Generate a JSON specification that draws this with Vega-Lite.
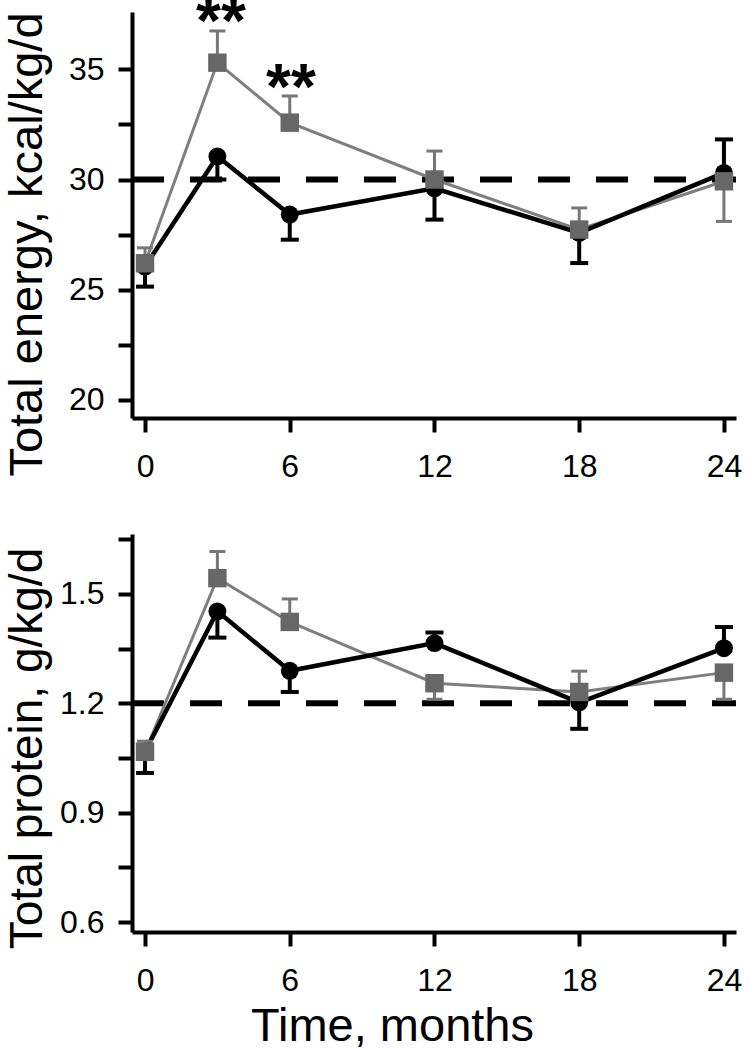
{
  "$schema": "https://vega.github.io/schema/vega-lite/v6.json",
  "background": "white",
  "padding": {"left": 2, "top": -9, "right": 5, "bottom": 0},
  "bounds": "flush",
  "spacing": 116,
  "config": {
    "font": "Liberation Sans",
    "view": {"stroke": null},
    "axis": {
      "grid": false,
      "domainColor": "black",
      "domainWidth": 4,
      "tickColor": "black",
      "tickWidth": 4,
      "tickSize": 14,
      "labelFont": "Liberation Sans",
      "labelFontSize": 32,
      "labelColor": "black",
      "titleFont": "Liberation Sans",
      "titleColor": "black",
      "titleFontWeight": "normal"
    }
  },
  "datasets": {
    "energy": [
      {"month": 0, "group": "A", "value": 26.05, "err": 25.14},
      {"month": 3, "group": "A", "value": 31.05, "err": 30.0},
      {"month": 6, "group": "A", "value": 28.41, "err": 27.27},
      {"month": 12, "group": "A", "value": 29.6, "err": 28.18},
      {"month": 18, "group": "A", "value": 27.58, "err": 26.21},
      {"month": 24, "group": "A", "value": 30.3, "err": 31.82},
      {"month": 0, "group": "B", "value": 26.2, "err": 26.9},
      {"month": 3, "group": "B", "value": 35.3, "err": 36.74},
      {"month": 6, "group": "B", "value": 32.58, "err": 33.79},
      {"month": 12, "group": "B", "value": 30.0, "err": 31.29},
      {"month": 18, "group": "B", "value": 27.73, "err": 28.71},
      {"month": 24, "group": "B", "value": 29.92, "err": 28.1}
    ],
    "protein": [
      {"month": 0, "group": "A", "value": 1.067, "err": 1.009},
      {"month": 3, "group": "A", "value": 1.452, "err": 1.38},
      {"month": 6, "group": "A", "value": 1.289, "err": 1.231},
      {"month": 12, "group": "A", "value": 1.365, "err": 1.394},
      {"month": 18, "group": "A", "value": 1.202, "err": 1.13},
      {"month": 24, "group": "A", "value": 1.351, "err": 1.409},
      {"month": 0, "group": "B", "value": 1.067, "err": 1.096},
      {"month": 3, "group": "B", "value": 1.543, "err": 1.616},
      {"month": 6, "group": "B", "value": 1.423, "err": 1.486},
      {"month": 12, "group": "B", "value": 1.255, "err": 1.211},
      {"month": 18, "group": "B", "value": 1.231, "err": 1.288},
      {"month": 24, "group": "B", "value": 1.284, "err": 1.211}
    ],
    "stars": [
      {"month": 3.15, "value": 37.57, "label": "**"},
      {"month": 6.05, "value": 34.58, "label": "**"}
    ],
    "refEnergy": [{"value": 30}],
    "refProtein": [{"value": 1.2}]
  },
  "vconcat": [
    {
      "width": 604,
      "height": 406,
      "encoding": {
        "x": {
          "field": "month", "type": "quantitative",
          "scale": {"domain": [-0.54, 24.5], "nice": false, "zero": false},
          "axis": {"values": [0, 6, 12, 18, 24], "title": null, "labelPadding": 19}
        },
        "y": {
          "field": "value", "type": "quantitative",
          "scale": {"domain": [19.18, 37.6], "nice": false, "zero": false},
          "axis": {
            "title": "Total energy, kcal/kg/d",
            "values": [20, 22.5, 25, 27.5, 30, 32.5, 35],
            "labelExpr": "datum.value % 5 == 0 ? datum.label : ''",
            "labelPadding": 14,
            "titleFontSize": 47,
            "titleAngle": 270,
            "titleAlign": "center",
            "titleBaseline": "alphabetic",
            "titleX": -91,
            "titleY": 232
          }
        }
      },
      "layer": [
        {
          "data": {"name": "refEnergy"},
          "mark": {"type": "rule", "color": "black", "strokeWidth": 6, "strokeDash": [32, 26]},
          "encoding": {"x": {"value": 0}, "x2": {"value": 604}}
        },
        {
          "data": {"name": "energy"},
          "transform": [{"filter": "datum.group == 'B'"}],
          "mark": {"type": "line", "color": "#7f7f7f", "strokeWidth": 3}
        },
        {
          "data": {"name": "energy"},
          "transform": [{"filter": "datum.group == 'A'"}],
          "mark": {"type": "line", "color": "black", "strokeWidth": 4.5}
        },
        {
          "data": {"name": "energy"},
          "transform": [{"filter": "datum.group == 'B'"}],
          "mark": {"type": "rule", "color": "#777777", "strokeWidth": 3},
          "encoding": {"y2": {"field": "err"}}
        },
        {
          "data": {"name": "energy"},
          "transform": [{"filter": "datum.group == 'B'"}],
          "mark": {"type": "point", "shape": "M-1,0L1,0", "filled": false, "color": "#777777", "strokeWidth": 3, "size": 256, "opacity": 1},
          "encoding": {"y": {"field": "err", "type": "quantitative"}}
        },
        {
          "data": {"name": "energy"},
          "transform": [{"filter": "datum.group == 'A'"}],
          "mark": {"type": "rule", "color": "black", "strokeWidth": 4},
          "encoding": {"y2": {"field": "err"}}
        },
        {
          "data": {"name": "energy"},
          "transform": [{"filter": "datum.group == 'A'"}],
          "mark": {"type": "point", "shape": "M-1,0L1,0", "filled": false, "color": "black", "strokeWidth": 4, "size": 324, "opacity": 1},
          "encoding": {"y": {"field": "err", "type": "quantitative"}}
        },
        {
          "data": {"name": "energy"},
          "transform": [{"filter": "datum.group == 'A'"}],
          "mark": {"type": "point", "shape": "circle", "filled": true, "color": "black", "size": 320, "opacity": 1}
        },
        {
          "data": {"name": "energy"},
          "transform": [{"filter": "datum.group == 'B'"}],
          "mark": {"type": "point", "shape": "square", "filled": true, "color": "#676767", "size": 340, "opacity": 1}
        },
        {
          "data": {"name": "stars"},
          "mark": {"type": "text", "fontSize": 64, "fontWeight": "bold", "baseline": "top", "align": "center", "dy": -21, "color": "black"},
          "encoding": {"text": {"field": "label"}}
        }
      ]
    },
    {
      "width": 604,
      "height": 398,
      "encoding": {
        "x": {
          "field": "month", "type": "quantitative",
          "scale": {"domain": [-0.54, 24.5], "nice": false, "zero": false},
          "axis": {
            "values": [0, 6, 12, 18, 24],
            "title": "Time, months",
            "labelPadding": 19,
            "titleFontSize": 47,
            "titleAlign": "center",
            "titleBaseline": "alphabetic",
            "titleX": 260,
            "titleY": 108
          }
        },
        "y": {
          "field": "value", "type": "quantitative",
          "scale": {"domain": [0.573, 1.664], "nice": false, "zero": false},
          "axis": {
            "title": "Total protein, g/kg/d",
            "values": [0.6, 0.75, 0.9, 1.05, 1.2, 1.35, 1.5, 1.65],
            "format": ".1f",
            "labelExpr": "round(datum.value * 10) % 3 == 0 ? datum.label : ''",
            "labelPadding": 14,
            "titleFontSize": 46,
            "titleAngle": 270,
            "titleAlign": "center",
            "titleBaseline": "alphabetic",
            "titleX": -91,
            "titleY": 214
          }
        }
      },
      "layer": [
        {
          "data": {"name": "refProtein"},
          "mark": {"type": "rule", "color": "black", "strokeWidth": 6, "strokeDash": [32, 26]},
          "encoding": {"x": {"value": 0}, "x2": {"value": 604}}
        },
        {
          "data": {"name": "protein"},
          "transform": [{"filter": "datum.group == 'B'"}],
          "mark": {"type": "line", "color": "#7f7f7f", "strokeWidth": 3}
        },
        {
          "data": {"name": "protein"},
          "transform": [{"filter": "datum.group == 'A'"}],
          "mark": {"type": "line", "color": "black", "strokeWidth": 4.5}
        },
        {
          "data": {"name": "protein"},
          "transform": [{"filter": "datum.group == 'B'"}],
          "mark": {"type": "rule", "color": "#777777", "strokeWidth": 3},
          "encoding": {"y2": {"field": "err"}}
        },
        {
          "data": {"name": "protein"},
          "transform": [{"filter": "datum.group == 'B'"}],
          "mark": {"type": "point", "shape": "M-1,0L1,0", "filled": false, "color": "#777777", "strokeWidth": 3, "size": 256, "opacity": 1},
          "encoding": {"y": {"field": "err", "type": "quantitative"}}
        },
        {
          "data": {"name": "protein"},
          "transform": [{"filter": "datum.group == 'A'"}],
          "mark": {"type": "rule", "color": "black", "strokeWidth": 4},
          "encoding": {"y2": {"field": "err"}}
        },
        {
          "data": {"name": "protein"},
          "transform": [{"filter": "datum.group == 'A'"}],
          "mark": {"type": "point", "shape": "M-1,0L1,0", "filled": false, "color": "black", "strokeWidth": 4, "size": 324, "opacity": 1},
          "encoding": {"y": {"field": "err", "type": "quantitative"}}
        },
        {
          "data": {"name": "protein"},
          "transform": [{"filter": "datum.group == 'A'"}],
          "mark": {"type": "point", "shape": "circle", "filled": true, "color": "black", "size": 320, "opacity": 1}
        },
        {
          "data": {"name": "protein"},
          "transform": [{"filter": "datum.group == 'B'"}],
          "mark": {"type": "point", "shape": "square", "filled": true, "color": "#676767", "size": 340, "opacity": 1}
        }
      ]
    }
  ]
}
